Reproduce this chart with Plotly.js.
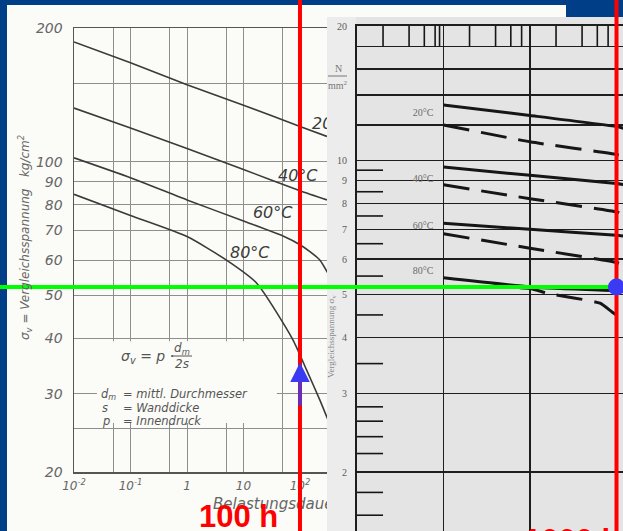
<!DOCTYPE html>
<html>
<head>
<meta charset="utf-8">
<script src="https://cdn.plot.ly/plotly-3.0.1.min.js"></script>
<style>
  html, body { margin: 0; padding: 0; background: #003f88; }
  #chart { width: 623px; height: 531px; }
</style>
</head>
<body>
<div id="chart"></div>
<script>
// ---- Left diagram: σv (kg/cm²) against load duration (h) ----
const tickTimesL = [0.01, 0.1, 1, 10, 100];
const tickTextL = ['10<sup>-2</sup>', '10<sup>-1</sup>', '1', '10', '10<sup>2</sup>'];
const minorTimesL = [0.05, 0.5, 5, 50];
const tickStressL = [20, 30, 40, 50, 60, 70, 80, 90, 100, 200];
const minorStressL = [25, 150];

const t20L = [0.01, 0.1, 1, 10, 100, 300];
const s20L = [186, 167, 149, 134, 120, 114];
const t40L = [0.01, 0.1, 1, 10, 100, 300];
const s40L = [132, 119, 107, 96, 86, 82];
const t60L = [0.01, 0.1, 1, 10, 50, 100, 150, 226, 313];
const s60L = [102, 92, 82, 73.5, 68, 65, 62.7, 60, 56];
const t80L = [0.01, 0.1, 1, 5, 17, 75, 130, 226, 313];
const s80L = [84.4, 75.6, 67.8, 60, 53.3, 39.7, 34, 29, 26.2];

const tempLabels = ['20°C', '40°C', '60°C', '80°C'];
const labelTimesL = [163, 40.8, 14.7, 5.77];
const labelStressL = [120.9, 92.3, 76.2, 61.9];

// ---- Right diagram: σv (N/mm²) against time (h) ----
const gridTimesR = [1, 10, 100, 1000];
const tickStressR = [2, 3, 4, 5, 6, 7, 8, 9, 10, 20];
const minorStressR = [12, 14, 16, 18];
const stripTimesR = [2, 4, 6, 8, 9, 20, 40, 60, 80, 200, 400, 600, 800];
const halfStepsR = [9.5, 8.5, 7.5, 6.5, 5.5, 4.5, 3.5, 2.8, 2.6, 2.4, 2.2, 1.8, 1.6];

const tR = [10, 100, 1000, 1200];
const s20R = [13.3, 12.6, 11.9, 11.8];
const s20Rd = [12.0, 11.0, 10.3, 10.2];
const s40R = [9.66, 9.25, 8.87, 8.82];
const s40Rd = [8.81, 8.2, 7.66, 7.58];
const s60R = [7.22, 7.0, 6.79, 6.76];
const s60Rd = [6.84, 6.35, 5.9, 5.83];
const s80R = [5.45, 5.2, 5.1, 5.08];
const t80Rd = [10, 100, 160, 645, 887, 1190];
const s80Rd = [5.2, 5.16, 5.03, 4.78, 4.57, 4.39];

const labelTimesR = [5.8, 5.8, 5.8, 5.8];
const labelStressR = [12.7, 9.06, 7.1, 5.64];

// ---- Markings ----
const timeLeft = 100;        // h, left diagram
const timeRight = 1000;      // h, right diagram
const designStress = 5.2;    // N/mm²
const arrowFrom = 28;        // kg/cm²
const arrowTo = 35.3;        // kg/cm²

const W = 623, H = 531;
const px = v => v / W;
const py = v => (H - v) / H;

// right axes: pixels per decade, used to size the round marker
const decX2 = 86.5, decY2 = 446, dotR = 8.5;

const ink = '#3a3a3a';
const inkR = '#161616';
const grayText = '#666';
const dash = '26px,12px';

function leftCurve(t, s) {
  return { x: t, y: s, xaxis: 'x', yaxis: 'y', mode: 'lines',
    line: { color: ink, width: 1.6, shape: 'spline', smoothing: 0.6 },
    hoverinfo: 'skip', showlegend: false };
}
function rightCurve(t, s, dashed) {
  return { x: t, y: s, xaxis: 'x2', yaxis: 'y2', mode: 'lines',
    line: { color: inkR, width: 3, dash: dashed ? dash : 'solid', shape: 'spline', smoothing: 0.5 },
    hoverinfo: 'skip', showlegend: false };
}
function segments(list, from, to, vertical) {
  const xs = [], ys = [];
  list.forEach(v => {
    if (vertical) { xs.push(v, v, null); ys.push(from, to, null); }
    else { xs.push(from, to, null); ys.push(v, v, null); }
  });
  return { x: xs, y: ys };
}
function note(xp, yp, text, font, extra) {
  return Object.assign({ xref: 'paper', yref: 'paper', x: px(xp), y: py(yp), text: text,
    xanchor: 'center', yanchor: 'middle', showarrow: false, font: font }, extra || {});
}

const strip = segments(stripTimesR, 18, 20, true);
const halfs = segments(halfStepsR, 1, 2, false);

const traces = [
  leftCurve(t20L, s20L),
  leftCurve(t40L, s40L),
  leftCurve(t60L, s60L),
  leftCurve(t80L, s80L),
  { x: labelTimesL, y: labelStressL, text: tempLabels, xaxis: 'x', yaxis: 'y',
    mode: 'text', textposition: 'middle right', cliponaxis: true,
    textfont: { family: 'DejaVu Sans', size: 16, color: '#3c3c3c', style: 'italic' },
    hoverinfo: 'skip', showlegend: false },

  rightCurve(tR, s20R, false), rightCurve(tR, s20Rd, true),
  rightCurve(tR, s40R, false), rightCurve(tR, s40Rd, true),
  rightCurve(tR, s60R, false), rightCurve(tR, s60Rd, true),
  rightCurve(tR, s80R, false), rightCurve(t80Rd, s80Rd, true),
  { x: strip.x, y: strip.y, xaxis: 'x2', yaxis: 'y2', mode: 'lines',
    line: { color: inkR, width: 1.6 }, hoverinfo: 'skip', showlegend: false },
  { x: halfs.x, y: halfs.y, xaxis: 'x2', yaxis: 'y2', mode: 'lines',
    line: { color: inkR, width: 1.6 }, hoverinfo: 'skip', showlegend: false },
  { x: labelTimesR, y: labelStressR, text: tempLabels, xaxis: 'x2', yaxis: 'y2',
    mode: 'text', textposition: 'middle center', cliponaxis: true,
    textfont: { family: 'Liberation Serif', size: 10, color: '#6a6a6a' },
    hoverinfo: 'skip', showlegend: false },

  // x-axis caption of the left diagram, cut where the right sheet lies over it
  { x: [0.644], y: [0.049], text: ['Belastungsdauer  h'], xaxis: 'x3', yaxis: 'y3',
    mode: 'text', textposition: 'middle right', cliponaxis: true,
    textfont: { family: 'DejaVu Sans', size: 15, color: grayText, style: 'italic' },
    hoverinfo: 'skip', showlegend: false }
];

const gridL = '#8e8e8e';
const gridR = '#1e1e1e';
const legendFont = { family: 'DejaVu Sans', size: 11.5, color: '#555', style: 'italic' };
const fracFont = { family: 'DejaVu Sans', size: 12, color: '#555', style: 'italic' };
const serifSmall = { family: 'Liberation Serif', size: 10, color: '#777' };
const timeFont = { family: 'Liberation Sans', size: 31, color: '#ff0000', weight: 'bold' };

const layout = {
  width: W, height: H,
  margin: { l: 0, r: 0, t: 0, b: 0 },
  paper_bgcolor: '#003f88',
  plot_bgcolor: 'rgba(0,0,0,0)',
  showlegend: false,
  xaxis: {
    type: 'log', domain: [px(74), px(327)], range: [-2, 2.478], anchor: 'y',
    tickvals: tickTimesL, ticktext: tickTextL, ticks: '', ticklabelstandoff: 2,
    tickfont: { family: 'DejaVu Sans', size: 12, color: grayText, style: 'italic' },
    showgrid: true, gridcolor: gridL, gridwidth: 1,
    minor: { tickvals: minorTimesL, showgrid: true, gridcolor: gridL, gridwidth: 1, ticks: '' },
    showline: true, mirror: true, linecolor: '#555', linewidth: 1.5, zeroline: false
  },
  yaxis: {
    type: 'log', domain: [py(472), py(28)], range: [Math.log10(20), Math.log10(200)], anchor: 'x',
    tickvals: tickStressL, ticktext: tickStressL.map(String), ticks: '', ticklabelstandoff: 7,
    tickfont: { family: 'DejaVu Sans', size: 14, color: grayText, style: 'italic' },
    showgrid: true, gridcolor: gridL, gridwidth: 1,
    minor: { tickvals: minorStressL, showgrid: true, gridcolor: gridL, gridwidth: 1, ticks: '' },
    showline: true, linecolor: '#555', linewidth: 1.5, zeroline: false
  },
  xaxis2: {
    type: 'log', domain: [px(357), 1], range: [0, 3.0751], anchor: 'y2', side: 'top',
    tickvals: gridTimesR, showticklabels: false, ticks: '',
    showgrid: true, gridcolor: gridR, gridwidth: 1.5,
    showline: true, linecolor: gridR, linewidth: 2, zeroline: false
  },
  yaxis2: {
    type: 'log', domain: [0, py(26)], range: [0.16874, 1.30103], anchor: 'x2',
    tickvals: tickStressR, ticktext: tickStressR.map(String), ticks: '', ticklabelstandoff: 6,
    tickfont: { family: 'Liberation Serif', size: 10, color: '#5a5a5a' },
    showgrid: true, gridcolor: gridR, gridwidth: 1.5,
    minor: { tickvals: minorStressR, showgrid: true, gridcolor: gridR, gridwidth: 1.5, ticks: '' },
    showline: true, linecolor: gridR, linewidth: 2, zeroline: false
  },
  xaxis3: { domain: [px(7), px(327)], range: [0, 1], anchor: 'y3', visible: false },
  yaxis3: { domain: [0, 1], range: [0, 1], anchor: 'x3', visible: false },

  shapes: [
    // paper sheets
    { type: 'rect', xref: 'paper', yref: 'paper', x0: px(7), x1: px(566), y0: 0, y1: py(5),
      fillcolor: '#fbfbf7', line: { width: 0 }, layer: 'below' },
    { type: 'rect', xref: 'paper', yref: 'paper', x0: px(327), x1: 1, y0: 0, y1: py(17),
      fillcolor: '#e4e4e4', line: { width: 0 }, layer: 'below' },
    { type: 'rect', xref: 'paper', yref: 'paper', x0: px(327), x1: px(356), y0: 0, y1: py(17),
      fillcolor: '#ececec', line: { width: 0 }, layer: 'below' },
    // blank field behind the formula block
    { type: 'rect', xref: 'x', yref: 'y', x0: 0.0255, x1: 39, y0: 25.8, y1: 39.4,
      fillcolor: '#fbfbf7', line: { width: 0 }, layer: 'between' },
    // fraction bars
    { type: 'line', xref: 'paper', yref: 'paper', x0: px(171), x1: px(192), y0: py(356), y1: py(356),
      line: { color: '#555', width: 1 } },
    { type: 'line', xref: 'paper', yref: 'paper', x0: px(328), x1: px(347), y0: py(76), y1: py(76),
      line: { color: '#777', width: 1 } },
    // design stress and reading lines
    { type: 'line', xref: 'paper', yref: 'y2', x0: 0, x1: 1, y0: designStress, y1: designStress,
      line: { color: '#00ff00', width: 4 }, layer: 'above' },
    { type: 'line', xref: 'x', yref: 'paper', x0: timeLeft, x1: timeLeft, y0: 0, y1: 1,
      line: { color: '#ff0000', width: 4 }, layer: 'above' },
    { type: 'line', xref: 'x2', yref: 'paper', x0: timeRight, x1: timeRight, y0: 0, y1: 1,
      line: { color: '#ff0000', width: 4 }, layer: 'above' },
    // point where the 1000 h line meets the design stress
    { type: 'circle', xref: 'x2', yref: 'y2',
      x0: timeRight / Math.pow(10, dotR / decX2), x1: timeRight * Math.pow(10, dotR / decX2),
      y0: designStress / Math.pow(10, dotR / decY2), y1: designStress * Math.pow(10, dotR / decY2),
      fillcolor: '#3a3af2', line: { width: 0 }, layer: 'above' }
  ],

  annotations: [
    note(25, 238, 'σ<sub>v</sub> = Vergleichsspannung   kg/cm<sup>2</sup>',
      { family: 'DejaVu Sans', size: 12, color: grayText, style: 'italic' }, { textangle: -90 }),
    note(119, 357, 'σ<sub>v</sub> = p ·',
      { family: 'DejaVu Sans', size: 14, color: '#555', style: 'italic' }, { xanchor: 'left' }),
    note(182, 349, 'd<sub>m</sub>', fracFont),
    note(182, 364, '2s', fracFont),
    note(99, 394, 'd<sub>m</sub>', legendFont, { xanchor: 'left' }),
    note(121, 394, '= mittl. Durchmesser', legendFont, { xanchor: 'left' }),
    note(100, 408, 's', legendFont, { xanchor: 'left' }),
    note(121, 408, '= Wanddicke', legendFont, { xanchor: 'left' }),
    note(100, 421, 'p', legendFont, { xanchor: 'left' }),
    note(121, 421, '= Innendruck', legendFont, { xanchor: 'left' }),

    // right sheet captions
    note(338, 68, 'N', serifSmall),
    note(338, 85, 'mm<sup>2</sup>', serifSmall),
    note(331, 337, 'Vergleichsspannung σ<sub>v</sub>',
      { family: 'Liberation Serif', size: 9, color: '#888' }, { textangle: -90 }),

    // reading arrow and time marks
    { xref: 'x', yref: 'y', axref: 'x', ayref: 'y',
      x: Math.log10(timeLeft), y: Math.log10(arrowTo), ax: Math.log10(timeLeft), ay: Math.log10(arrowFrom),
      text: '', showarrow: true, arrowhead: 2, arrowsize: 1.3, arrowwidth: 3, arrowcolor: '#3a3af2', standoff: 0 },
    note(238.5, 516.5, timeLeft + ' h', timeFont),
    note(522, 540, timeRight + ' h', timeFont, { xanchor: 'left' })
  ]
};

Plotly.newPlot('chart', traces, layout, { staticPlot: true, displayModeBar: false });
</script>
</body>
</html>
